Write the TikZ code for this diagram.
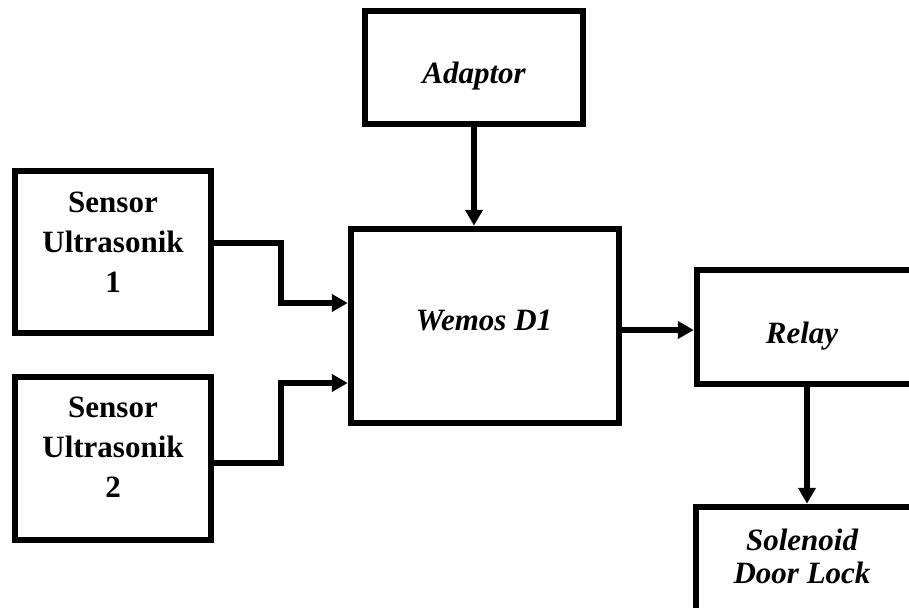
\documentclass[tikz,border=0pt]{standalone}
\usepackage{fontspec}
\setmainfont{Liberation Serif}
\usetikzlibrary{arrows.meta,calc}
\begin{document}
\begin{tikzpicture}[x=1pt,y=-1pt,
  blk/.style={draw=black,line width=6.5pt,fill=white,rectangle,inner sep=0pt},
  conn/.style={line width=6pt,-{Triangle[length=16pt,width=17pt]}},
  lbl/.style={align=center,inner sep=0pt,font=\fontsize{31}{40}\selectfont\bfseries},
  ilbl/.style={align=center,inner sep=0pt,font=\fontsize{31}{33}\selectfont\bfseries\itshape}]
\useasboundingbox (0,0) rectangle (909,607);
\clip (0,0) rectangle (909,607);
% boxes
\node[blk,minimum width=218pt,minimum height=113pt] (ada) at (474,67.5) {};
\node[blk,minimum width=196pt,minimum height=162pt] (s1) at (113,252) {};
\node[blk,minimum width=196pt,minimum height=163pt] (s2) at (113,458.5) {};
\node[blk,minimum width=268pt,minimum height=194pt] (wem) at (485,326) {};
\node[blk,minimum width=303pt,minimum height=114pt] (rel) at (848.5,327) {};
\node[blk,minimum width=303pt,minimum height=173pt] (sol) at (847.5,593.5) {};
% texts
\node[ilbl] (tada) at (474,76) {Adaptor};
\node[lbl] (ts1) at (113,242) {Sensor\\Ultrasonik\\1};
\node[lbl] (ts2) at (113,447) {Sensor\\Ultrasonik\\2};
\node[ilbl] (twem) at (484,320) {Wemos D1};
\node[ilbl] (trel) at (802,336) {Relay};
\node[ilbl] (tsol) at (802,556) {Solenoid\\Door Lock};
% connectors
\draw[conn] (ada.south) -- (ada.south |- wem.north);
\draw[conn] ([yshift=9pt]s1.east) -- ++(67,0) |- ([yshift=23pt]wem.west);
\draw[conn] ([yshift=-4.5pt]s2.east) -- ++(67,0) |- ([yshift=-57pt]wem.west);
\draw[conn] ([yshift=-4pt]wem.east) -- ([yshift=-4pt]wem.east -| rel.west);
\draw[conn] ([xshift=-41.5pt]rel.south) -- ([xshift=-41.5pt]rel.south |- sol.north);
\end{tikzpicture}
\end{document}
